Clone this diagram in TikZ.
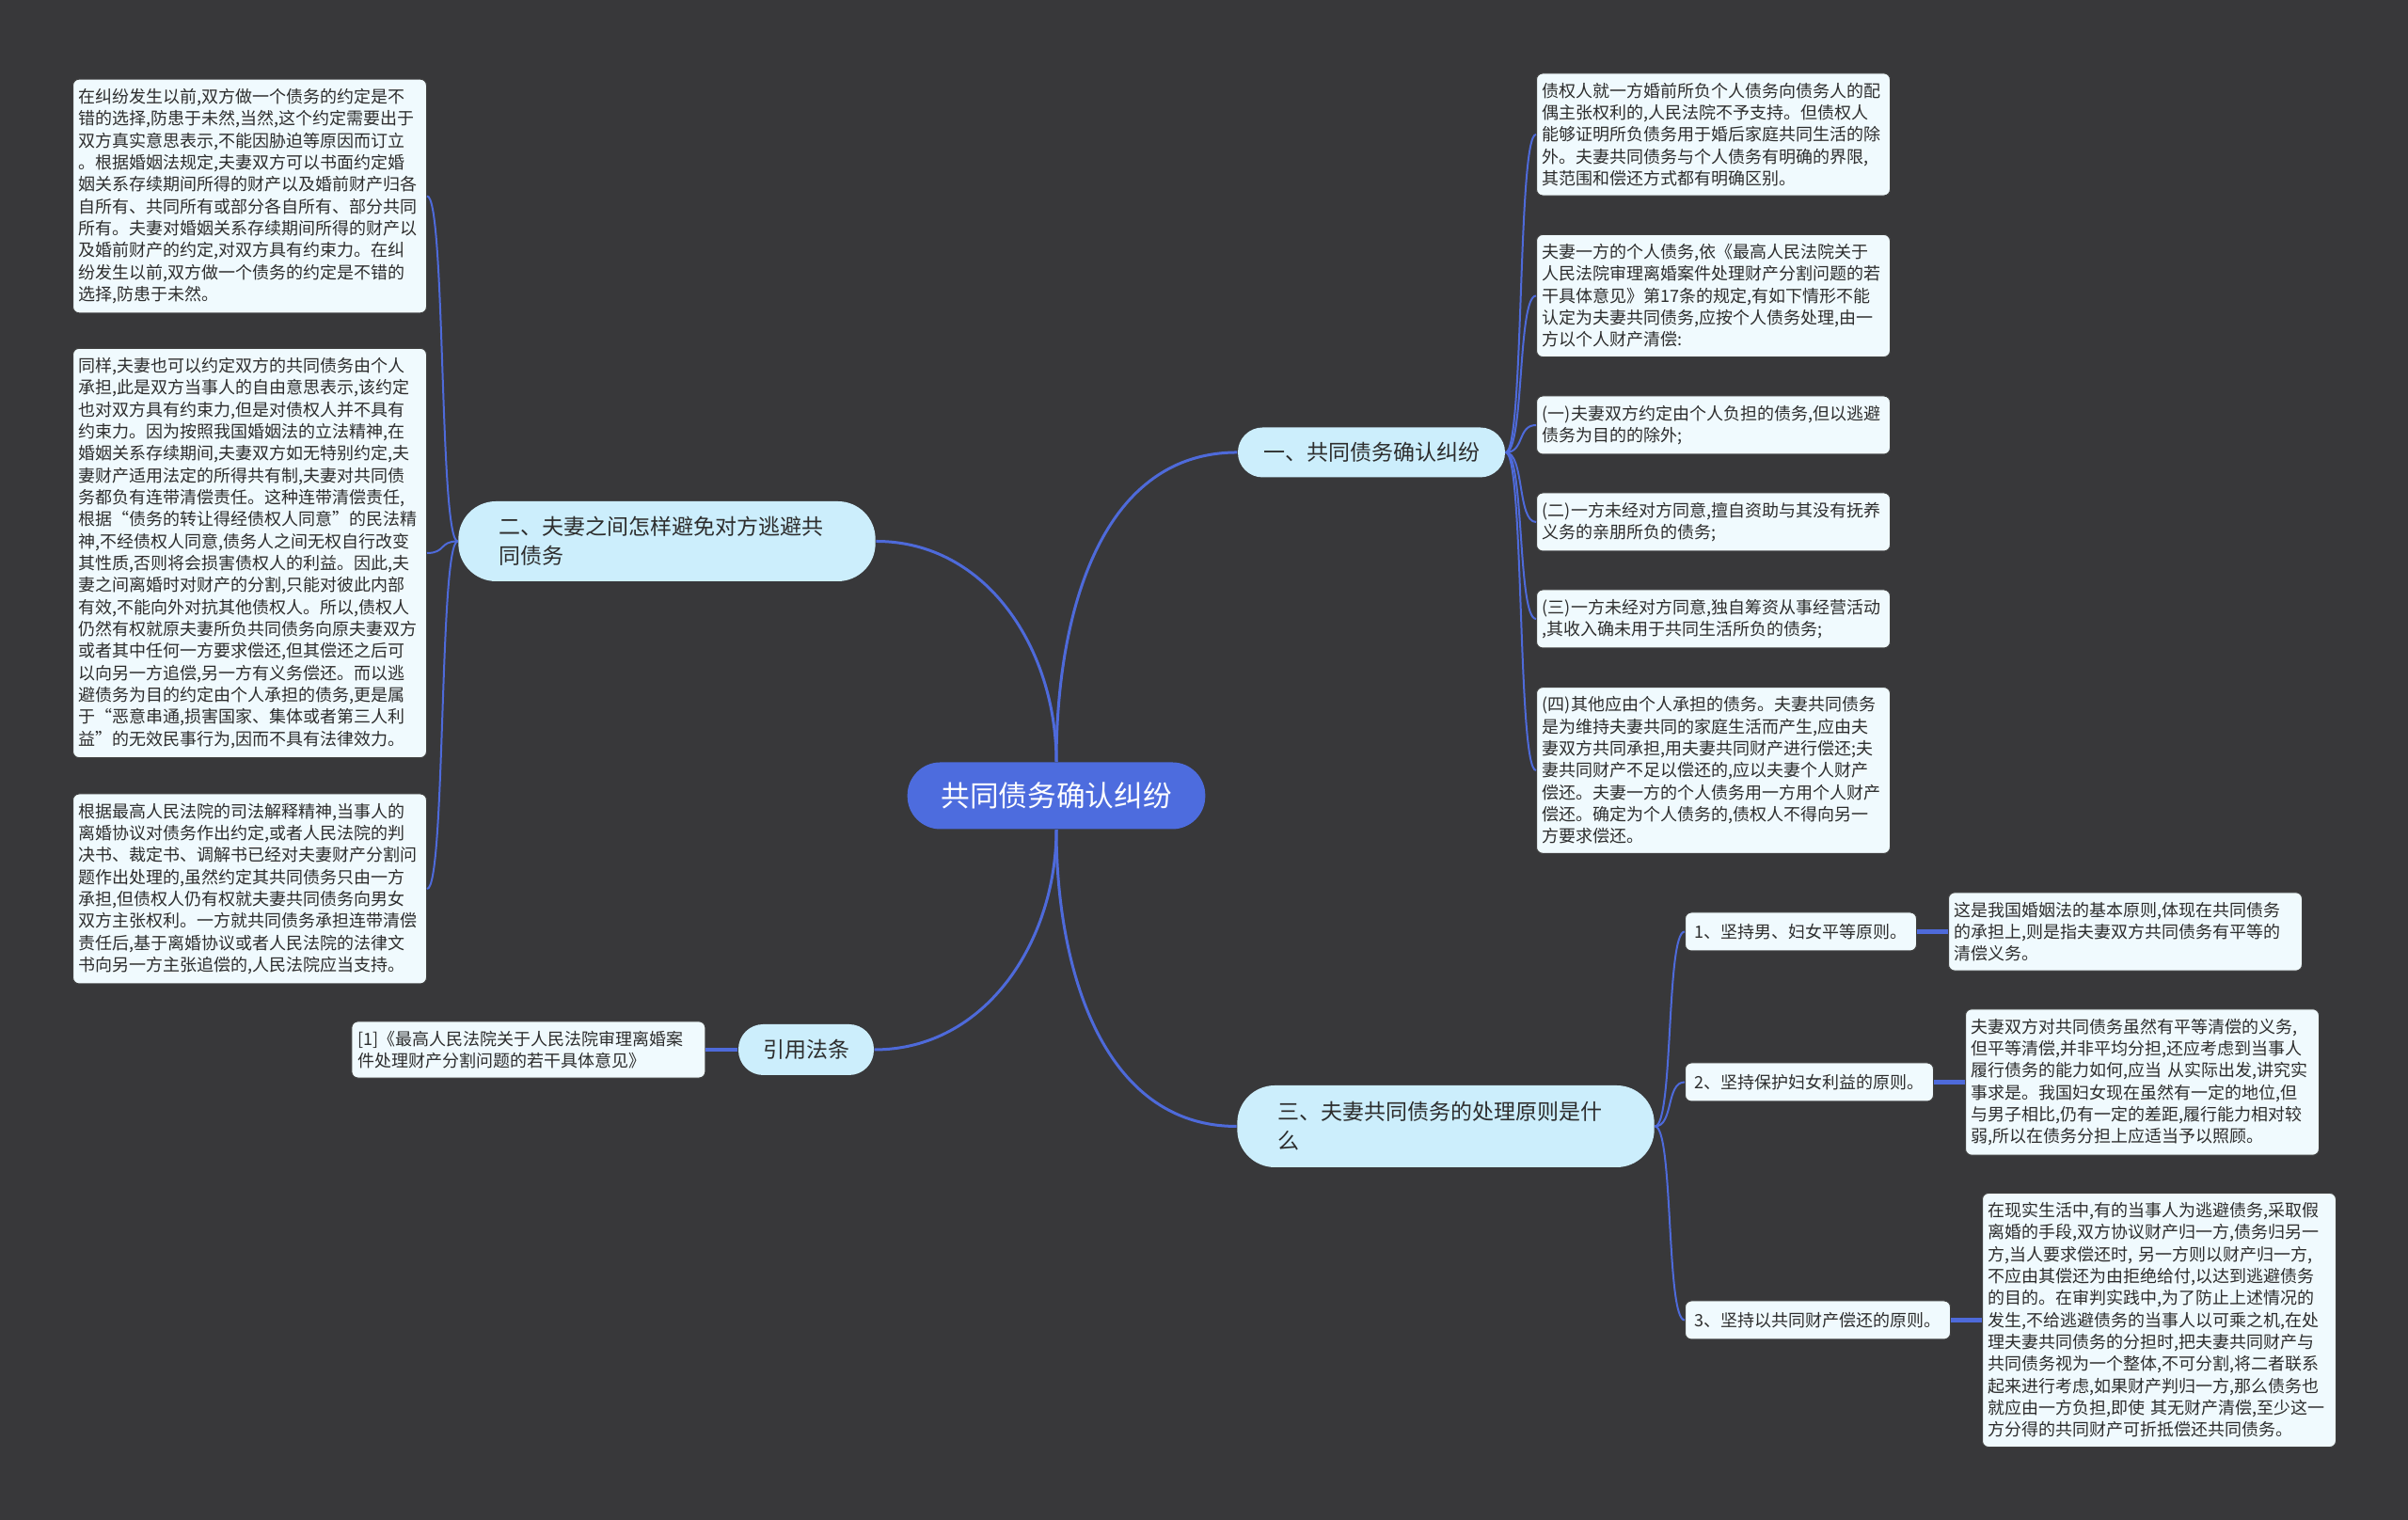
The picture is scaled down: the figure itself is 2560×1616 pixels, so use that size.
\documentclass[tikz,border=0pt]{standalone}
\usepackage{fontspec}
\setmainfont{Noto Sans CJK SC}
\usepackage{tikz}
\usetikzlibrary{positioning}
\definecolor{bgc}{RGB}{56,56,58}
\definecolor{rootc}{RGB}{77,108,222}
\definecolor{topicc}{RGB}{204,238,252}
\definecolor{leafc}{RGB}{240,250,254}
\definecolor{linec}{RGB}{78,106,218}
\definecolor{txtc}{RGB}{45,45,45}

\begin{document}
\begin{tikzpicture}[x=0.3pt, y=0.3pt,
  root/.style={fill=rootc, text=white, rounded corners=10.5pt, minimum width=95pt,
    minimum height=21.3pt, font=\fontsize{9.2pt}{11pt}\selectfont},
  topic/.style={fill=topicc, text=txtc, rounded corners=7.9pt, minimum height=15.9pt,
    font=\fontsize{6.9pt}{9.3pt}\selectfont},
  bigtopic/.style={topic, rounded corners=12pt, text width=107pt, inner xsep=13pt,
    minimum height=25.5pt, align=left},
  leaf/.style={fill=leafc, draw=black!75, line width=0.3pt, text=txtc, rounded corners=2pt,
    inner xsep=1.9pt, inner ysep=3pt, font=\fontsize{5.4pt}{7pt}\selectfont},
  note/.style={leaf, text width=109pt, align=left},
  rule/.style={leaf, minimum height=12.3pt, inner xsep=3pt},
  link/.style={draw=linec, line width=0.9pt},
  thin/.style={draw=linec, line width=0.6pt},
  thick/.style={draw=linec, line width=1.3pt},
  rbrace/.style={to path={.. controls ([xshift=6pt]\tikztostart) and ([xshift=-6pt]\tikztotarget) .. (\tikztotarget)}},
  lbrace/.style={to path={.. controls ([xshift=-6pt]\tikztostart) and ([xshift=6pt]\tikztotarget) .. (\tikztotarget)}}]

  \fill[bgc] (0,0) rectangle (2560,1616);
  \useasboundingbox (0,0) rectangle (2560,1616);

  % centre and main branches
  \node[root] (root) at (1123,770) {共同债务确认纠纷};
  \node[topic, minimum width=85.2pt] (one) at (1458,1135) {一、共同债务确认纠纷};
  \node[bigtopic] (two) at (709,1040.5) {二、夫妻之间怎样避免对方逃避共\\同债务};
  \node[topic, minimum width=43.2pt, minimum height=16.2pt] (cite) at (857,500) {引用法条};
  \node[bigtopic, minimum height=26.1pt] (three) at (1537,418.5) {三、夫妻共同债务的处理原则是什\\么};

  % branch one
  \node[note, anchor=west] (r1) at (1633,1473) {债权人就一方婚前所负个人债务向债务人的配\\
偶主张权利的,人民法院不予支持。但债权人\\
能够证明所负债务用于婚后家庭共同生活的除\\
外。夫妻共同债务与个人债务有明确的界限,\\
其范围和偿还方式都有明确区别。};
  \node[note, anchor=west] (r2) at (1633,1301.5) {夫妻一方的个人债务,依《最高人民法院关于\\
人民法院审理离婚案件处理财产分割问题的若\\
干具体意见》第17条的规定,有如下情形不能\\
认定为夫妻共同债务,应按个人债务处理,由一\\
方以个人财产清偿:};
  \node[note, anchor=west] (r3) at (1633,1164) {(一)夫妻双方约定由个人负担的债务,但以逃避\\
债务为目的的除外;};
  \node[note, anchor=west] (r4) at (1633,1061) {(二)一方未经对方同意,擅自资助与其没有抚养\\
义务的亲朋所负的债务;};
  \node[note, anchor=west] (r5) at (1633,958) {(三)一方未经对方同意,独自筹资从事经营活动\\
,其收入确未用于共同生活所负的债务;};
  \node[note, anchor=west] (r6) at (1633,797) {(四)其他应由个人承担的债务。夫妻共同债务\\
是为维持夫妻共同的家庭生活而产生,应由夫\\
妻双方共同承担,用夫妻共同财产进行偿还;夫\\
妻共同财产不足以偿还的,应以夫妻个人财产\\
偿还。夫妻一方的个人债务用一方用个人财产\\
偿还。确定为个人债务的,债权人不得向另一\\
方要求偿还。};

  % branch two
  \node[note, anchor=east] (l1) at (454,1407.5) {在纠纷发生以前,双方做一个债务的约定是不\\
错的选择,防患于未然,当然,这个约定需要出于\\
双方真实意思表示,不能因胁迫等原因而订立\\
。根据婚姻法规定,夫妻双方可以书面约定婚\\
姻关系存续期间所得的财产以及婚前财产归各\\
自所有、共同所有或部分各自所有、部分共同\\
所有。夫妻对婚姻关系存续期间所得的财产以\\
及婚前财产的约定,对双方具有约束力。在纠\\
纷发生以前,双方做一个债务的约定是不错的\\
选择,防患于未然。};
  \node[note, anchor=east] (l2) at (454,1028) {同样,夫妻也可以约定双方的共同债务由个人\\
承担,此是双方当事人的自由意思表示,该约定\\
也对双方具有约束力,但是对债权人并不具有\\
约束力。因为按照我国婚姻法的立法精神,在\\
婚姻关系存续期间,夫妻双方如无特别约定,夫\\
妻财产适用法定的所得共有制,夫妻对共同债\\
务都负有连带清偿责任。这种连带清偿责任,\\
根据“债务的转让得经债权人同意”的民法精\\
神,不经债权人同意,债务人之间无权自行改变\\
其性质,否则将会损害债权人的利益。因此,夫\\
妻之间离婚时对财产的分割,只能对彼此内部\\
有效,不能向外对抗其他债权人。所以,债权人\\
仍然有权就原夫妻所负共同债务向原夫妻双方\\
或者其中任何一方要求偿还,但其偿还之后可\\
以向另一方追偿,另一方有义务偿还。而以逃\\
避债务为目的约定由个人承担的债务,更是属\\
于“恶意串通,损害国家、集体或者第三人利\\
益”的无效民事行为,因而不具有法律效力。};
  \node[note, anchor=east] (l3) at (454,671) {根据最高人民法院的司法解释精神,当事人的\\
离婚协议对债务作出约定,或者人民法院的判\\
决书、裁定书、调解书已经对夫妻财产分割问\\
题作出处理的,虽然约定其共同债务只由一方\\
承担,但债权人仍有权就夫妻共同债务向男女\\
双方主张权利。一方就共同债务承担连带清偿\\
责任后,基于离婚协议或者人民法院的法律文\\
书向另一方主张追偿的,人民法院应当支持。};

  % citation
  \node[note, left=10.2pt of cite] (law) {[1]《最高人民法院关于人民法院审理离婚案\\
件处理财产分割问题的若干具体意见》};

  % branch three
  \node[rule, anchor=west] (p1) at (1791,625.5) {1、坚持男、妇女平等原则。};
  \node[rule, anchor=west] (p2) at (1791,465.5) {2、坚持保护妇女利益的原则。};
  \node[rule, anchor=west] (p3) at (1791,212.5) {3、坚持以共同财产偿还的原则。};
  \node[note, right=9.9pt of p1] (d1) {这是我国婚姻法的基本原则,体现在共同债务\\
的承担上,则是指夫妻双方共同债务有平等的\\
清偿义务。};
  \node[note, right=9.9pt of p2] (d2) {夫妻双方对共同债务虽然有平等清偿的义务,\\
但平等清偿,并非平均分担,还应考虑到当事人\\
履行债务的能力如何,应当 从实际出发,讲究实\\
事求是。我国妇女现在虽然有一定的地位,但\\
与男子相比,仍有一定的差距,履行能力相对较\\
弱,所以在债务分担上应适当予以照顾。};
  \node[note, right=9.9pt of p3] (d3) {在现实生活中,有的当事人为逃避债务,采取假\\
离婚的手段,双方协议财产归一方,债务归另一\\
方,当人要求偿还时, 另一方则以财产归一方,\\
不应由其偿还为由拒绝给付,以达到逃避债务\\
的目的。在审判实践中,为了防止上述情况的\\
发生,不给逃避债务的当事人以可乘之机,在处\\
理夫妻共同债务的分担时,把夫妻共同财产与\\
共同债务视为一个整体,不可分割,将二者联系\\
起来进行考虑,如果财产判归一方,那么债务也\\
就应由一方负担,即使 其无财产清偿,至少这一\\
方分得的共同财产可折抵偿还共同债务。};

  \draw[link]
    (root.north) edge[out=90, in=180] (one.west)
    (root.north) edge[out=90, in=0] (two.east)
    (root.south) edge[out=-90, in=0] (cite.east)
    (root.south) edge[out=-90, in=180] (three.west);
  \draw[thin]
    (one.east) edge[rbrace] (r1.west)
    (one.east) edge[rbrace] (r2.west)
    (one.east) edge[rbrace] (r3.west)
    (one.east) edge[rbrace] (r4.west)
    (one.east) edge[rbrace] (r5.west)
    (one.east) edge[rbrace] (r6.west)
    (two.west) edge[lbrace] (l1.east)
    (two.west) edge[lbrace] (l2.east)
    (two.west) edge[lbrace] (l3.east)
    (three.east) edge[rbrace] (p1.west)
    (three.east) edge[rbrace] (p2.west)
    (three.east) edge[rbrace] (p3.west);
  \draw[thick]
    (cite.west) edge (law.east)
    (p1.east) edge (d1.west)
    (p2.east) edge (d2.west)
    (p3.east) edge (d3.west);
\end{tikzpicture}
\end{document}
